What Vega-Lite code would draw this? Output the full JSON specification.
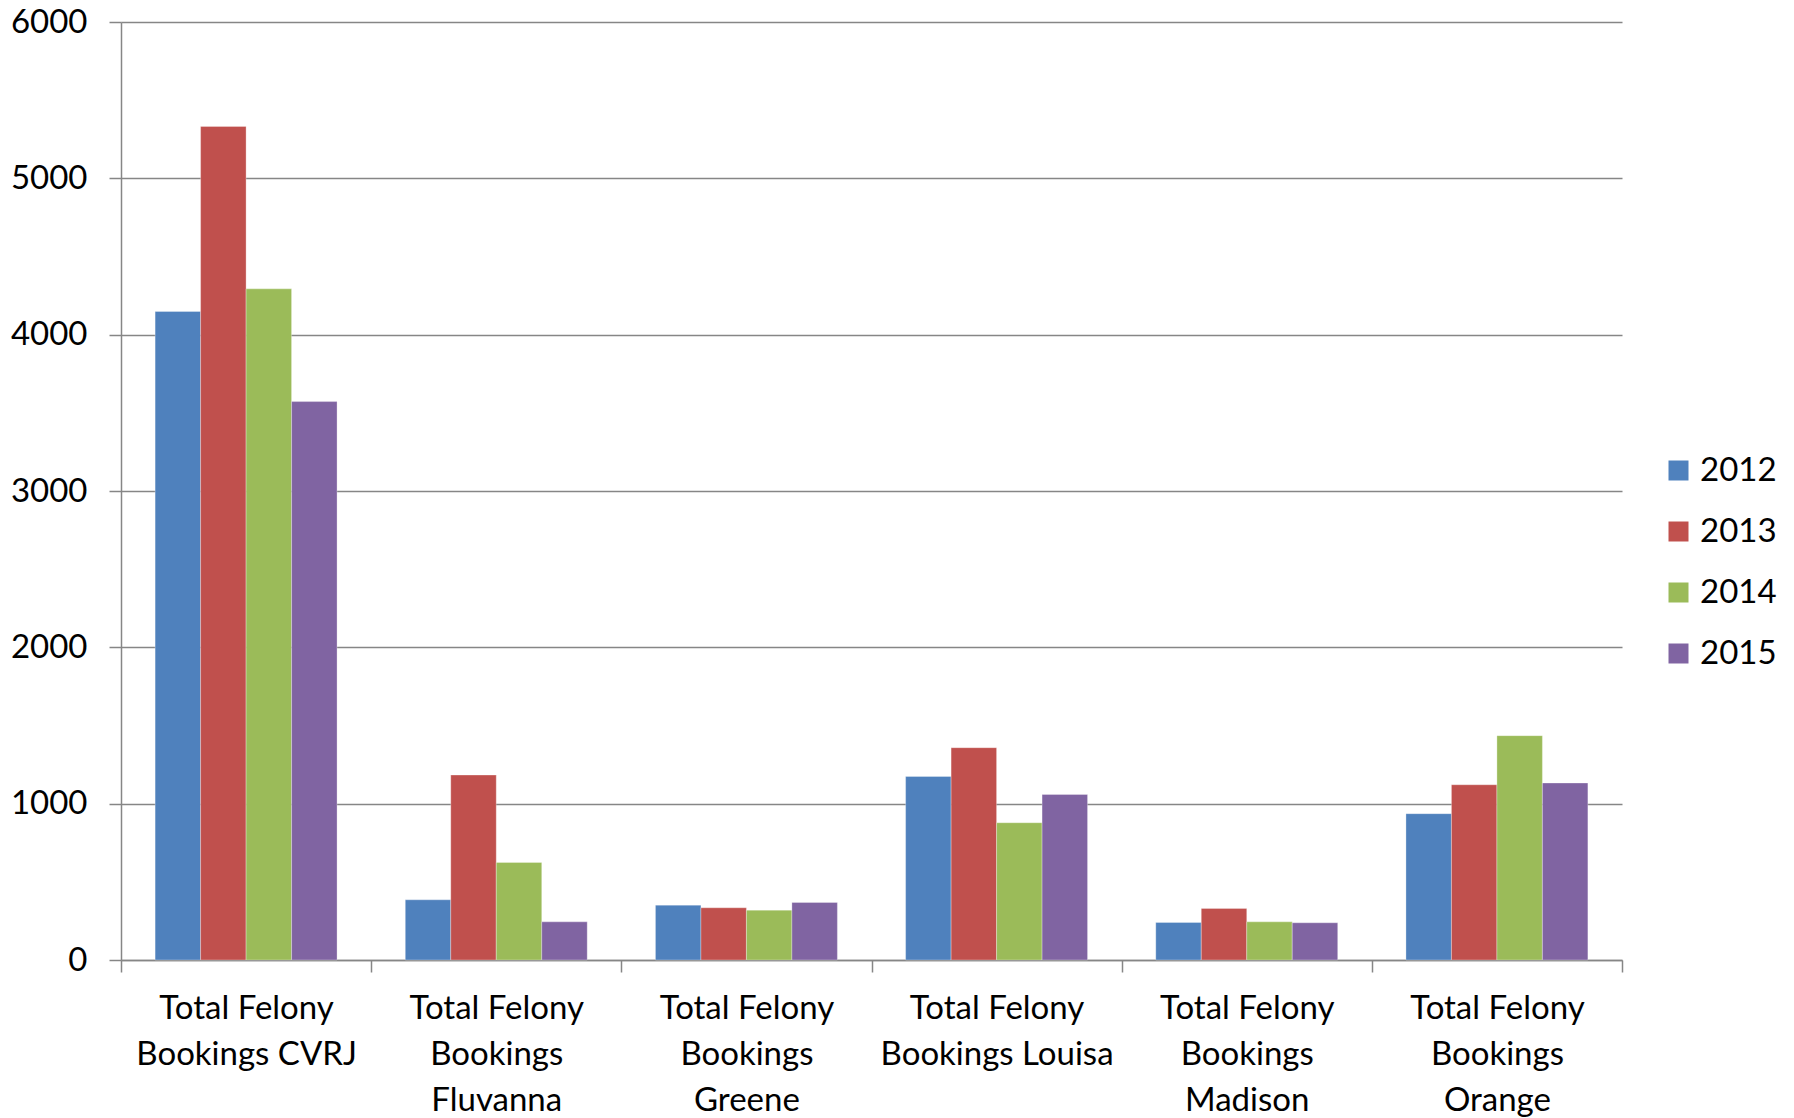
{
  "$schema": "https://vega.github.io/schema/vega-lite/v6.json",
  "width": 1501,
  "height": 938,
  "autosize": {"type": "none"},
  "padding": {"left": 121, "top": 22, "right": 172, "bottom": 158},
  "background": "white",
  "config": {
    "view": {"stroke": null},
    "font": "Lato",
    "axis": {"labelFont": "Lato", "labelColor": "#000000", "domainColor": "#868686", "tickColor": "#868686", "domainWidth": 1.5, "tickWidth": 1.5}
  },
  "data": {
    "values": [
      {"category": "Total Felony Bookings CVRJ", "year": "2012", "value": 4148},
      {"category": "Total Felony Bookings CVRJ", "year": "2013", "value": 5332},
      {"category": "Total Felony Bookings CVRJ", "year": "2014", "value": 4293},
      {"category": "Total Felony Bookings CVRJ", "year": "2015", "value": 3572},
      {"category": "Total Felony Bookings Fluvanna", "year": "2012", "value": 385},
      {"category": "Total Felony Bookings Fluvanna", "year": "2013", "value": 1183},
      {"category": "Total Felony Bookings Fluvanna", "year": "2014", "value": 624},
      {"category": "Total Felony Bookings Fluvanna", "year": "2015", "value": 244},
      {"category": "Total Felony Bookings Greene", "year": "2012", "value": 351},
      {"category": "Total Felony Bookings Greene", "year": "2013", "value": 334},
      {"category": "Total Felony Bookings Greene", "year": "2014", "value": 319},
      {"category": "Total Felony Bookings Greene", "year": "2015", "value": 368},
      {"category": "Total Felony Bookings Louisa", "year": "2012", "value": 1174},
      {"category": "Total Felony Bookings Louisa", "year": "2013", "value": 1358},
      {"category": "Total Felony Bookings Louisa", "year": "2014", "value": 878},
      {"category": "Total Felony Bookings Louisa", "year": "2015", "value": 1059},
      {"category": "Total Felony Bookings Madison", "year": "2012", "value": 240},
      {"category": "Total Felony Bookings Madison", "year": "2013", "value": 330},
      {"category": "Total Felony Bookings Madison", "year": "2014", "value": 244},
      {"category": "Total Felony Bookings Madison", "year": "2015", "value": 238},
      {"category": "Total Felony Bookings Orange", "year": "2012", "value": 936},
      {"category": "Total Felony Bookings Orange", "year": "2013", "value": 1121},
      {"category": "Total Felony Bookings Orange", "year": "2014", "value": 1435},
      {"category": "Total Felony Bookings Orange", "year": "2015", "value": 1132}
    ]
  },
  "mark": {"type": "bar", "stroke": "white", "strokeWidth": 0.5, "strokeOpacity": 0.6},
  "encoding": {
    "x": {
      "field": "category",
      "type": "nominal",
      "sort": null,
      "scale": {"paddingInner": 0, "paddingOuter": 0},
      "axis": {
        "title": null,
        "labelAngle": 0,
        "labelFontSize": 33,
        "labelLineHeight": 46,
        "labelPadding": 20,
        "labelLimit": 400,
        "tickSize": 12,
        "tickBand": "extent",
        "labelBaseline": "top",
        "labelExpr": "!isString(datum.value) ? '' : test(/CVRJ|Louisa/, datum.value) ? ['Total Felony', replace(datum.value, 'Total Felony ', '')] : ['Total Felony', 'Bookings', replace(datum.value, 'Total Felony Bookings ', '')]"
      }
    },
    "xOffset": {"field": "year", "type": "nominal", "scale": {"paddingInner": 0, "paddingOuter": 0.75}},
    "y": {
      "field": "value",
      "type": "quantitative",
      "scale": {"domain": [0, 6000], "nice": false},
      "axis": {
        "title": null,
        "values": [0, 1000, 2000, 3000, 4000, 5000, 6000],
        "format": "d",
        "labelFontSize": 33,
        "labelPadding": 22,
        "tickSize": 12,
        "grid": true,
        "gridColor": "#868686",
        "gridWidth": 1.5
      }
    },
    "color": {
      "field": "year",
      "type": "nominal",
      "scale": {"domain": ["2012", "2013", "2014", "2015"], "range": ["#4F81BD", "#C0504D", "#9BBB59", "#8064A2"]},
      "legend": {
        "title": null,
        "orient": "none",
        "legendX": 1541,
        "legendY": 432,
        "symbolType": "square",
        "symbolSize": 400,
        "symbolStrokeWidth": 0,
        "labelFontSize": 33,
        "labelFont": "Lato",
        "labelColor": "#000000",
        "labelOffset": 5,
        "rowPadding": 27
      }
    }
  }
}
